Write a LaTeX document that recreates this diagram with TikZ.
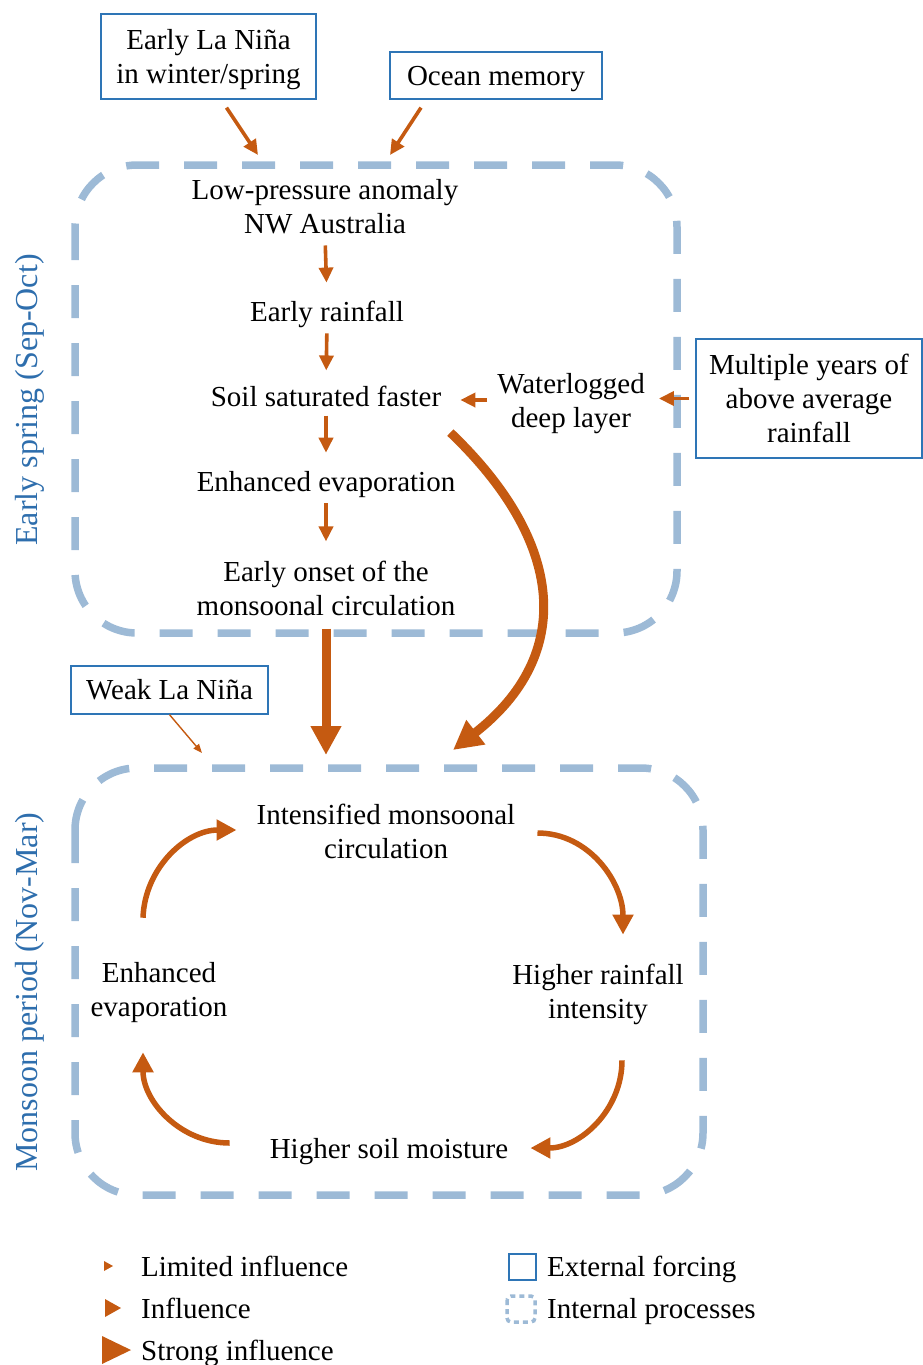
\documentclass[tikz,border=0pt]{standalone}
\usepackage{fontspec}
\setmainfont{Liberation Serif}
\usetikzlibrary{arrows.meta,calc}
\definecolor{arr}{HTML}{C55A11}
\definecolor{dashb}{HTML}{9DBAD6}
\definecolor{extb}{HTML}{2E75B6}
\definecolor{sideb}{HTML}{2E6EAD}
\begin{document}
\begin{tikzpicture}[x=1pt,y=-1pt,
  txt/.style={font=\fontsize{29}{34}\selectfont, align=center, inner sep=2pt},
  nd/.style={text depth=0pt},
  ext/.style={txt, draw=extb, line width=1.3pt, inner sep=0pt},
  side/.style={font=\fontsize{32}{38}\selectfont, text=sideb, rotate=90},
  phase/.style={draw=dashb, line width=7.5pt, dash pattern=on 33pt off 25pt, rounded corners=62pt},
  medarrow/.style={draw=arr, line width=3.6pt, -{Triangle[length=15pt,width=14pt]}},
  strongarrow/.style={draw=arr, line width=9pt, -{Triangle[length=29pt,width=29pt]}},
  weakarrow/.style={draw=arr, line width=1.4pt, -{Triangle[length=9pt,width=7pt]}},
  cycarrow/.style={draw=arr, line width=5.5pt, -{Triangle[length=20pt,width=20pt]}},
  legtxt/.style={txt, anchor=west}
]
\useasboundingbox (0,0) rectangle (923,1365);

% phase boxes
\draw[phase] (75,165) rectangle (677,633);
\draw[phase] (75,768) rectangle (703,1195);
\coordinate (b2top) at (389,768);

% side labels
\node[side] (s1) at (30,400) {Early spring (Sep-Oct)};
\node[side] (s2) at (30,992) {Monsoon period (Nov-Mar)};

% external forcings
\node[ext, nd, minimum width=215pt, minimum height=85pt] (eln) at (208.5,56.5) {Early La Niña\\in winter/spring};
\node[ext, nd, minimum width=212pt, minimum height=47pt] (om) at (496,75.5) {Ocean memory};
\node[ext, minimum width=226pt, minimum height=119pt] (myr) at (809,398.5) {Multiple years of\\above average\\rainfall};
\node[ext, minimum width=197pt, minimum height=48pt] (wln) at (169.5,690) {Weak La Niña};

% early spring processes
\node[txt] (lp) at (325,207) {Low-pressure anomaly\\NW Australia};
\node[txt, nd] (er) at (327,311) {Early rainfall};
\node[txt] (ss) at (326,396) {Soil saturated faster};
\node[txt, nd] (wl) at (571,400) {Waterlogged\\deep layer};
\node[txt, nd] (ev) at (326,481) {Enhanced evaporation};
\node[txt] (eo) at (326,588) {Early onset of the\\monsoonal circulation};

% monsoon processes
\node[txt] (im) at (386,831) {Intensified monsoonal\\circulation};
\node[txt, nd] (hr) at (598,991) {Higher rainfall\\intensity};
\node[txt, nd] (sm) at (389,1148) {Higher soil moisture};
\node[txt, nd] (ee) at (159,989) {Enhanced\\evaporation};

\coordinate (t1) at (258,155);
\coordinate (t2) at (390,155);
\coordinate (tw) at (202,753);

% arrows: forcing
\draw[medarrow] ([xshift=18pt,yshift=-8pt]eln.south) -- (t1);
\draw[medarrow] ([xshift=-75pt,yshift=-8pt]om.south) -- (t2);
\draw[weakarrow] (wln.south) -- (tw);

% arrows: early spring chain
\draw[medarrow, shorten <=9pt, shorten >=16pt] (lp.south) -- (er.north);
\draw[medarrow, shorten <=10pt, shorten >=13pt] (er.south) -- (ss.north);
\draw[medarrow, shorten <=7pt, shorten >=16pt] (ss.south) -- (ev.north);
\draw[medarrow, shorten <=10pt, shorten >=17pt] (ev.south) -- (eo.north);
\draw[medarrow, shorten <=8pt, shorten >=17pt] (wl.west) -- (wl.west -| ss.east);
\draw[medarrow, shorten <=6pt, shorten >=12pt] (myr.west) -- (myr.west -| wl.east);

% strong arrows
\draw[strongarrow, shorten <=11pt, shorten >=13pt] (eo.south) -- (eo.south |- b2top);
\draw[strongarrow] ([xshift=7pt,yshift=-24pt]ss.south east) .. controls +(115,110) and +(122,-95) .. ([xshift=64pt,yshift=18pt]b2top);

% monsoon cycle
\draw[cycarrow] ([xshift=-16pt,yshift=42pt]ee.north) to[out=88,in=180] ([xshift=-18pt,yshift=1pt]im.west);
\draw[cycarrow] ([xshift=20pt,yshift=-2pt]im.east) to[out=0,in=90] ([xshift=25pt,yshift=27pt]hr.north);
\draw[cycarrow] ([xshift=24pt,yshift=-40pt]hr.south) to[out=-90,in=0] ([xshift=20pt]sm.east);
\draw[cycarrow] ([xshift=-38pt,yshift=5pt]sm.west) to[out=180,in=-90] ([xshift=-16pt,yshift=-34pt]ee.south);

% legend
\fill[arr] (104,1261) -- (113,1266) -- (104,1271) -- cycle;
\fill[arr] (105,1299) -- (121,1308) -- (105,1317) -- cycle;
\fill[arr] (102,1336) -- (131,1350) -- (102,1364) -- cycle;
\node[legtxt] (l1) at (139,1266) {Limited influence};
\node[legtxt] (l2) at (139,1308) {Influence};
\node[legtxt, nd] (l3) at (139,1350) {Strong influence};
\draw[extb, line width=1.3pt] (509,1254) rectangle (536,1280);
\draw[dashb, line width=3.5pt, dash pattern=on 5pt off 4pt, rounded corners=4pt] (507,1296) rectangle (535,1322);
\node[legtxt, nd] (l4) at (545,1266) {External forcing};
\node[legtxt, nd] (l5) at (545,1308) {Internal processes};
\end{tikzpicture}
\end{document}
